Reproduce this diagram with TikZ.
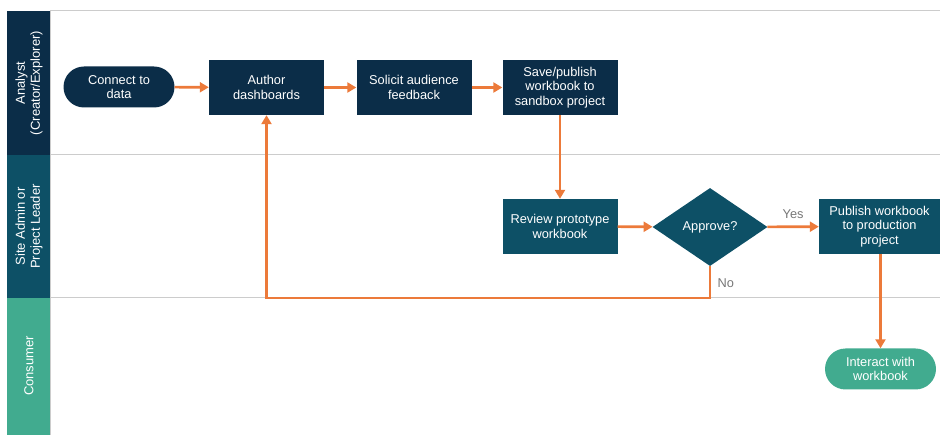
\documentclass[tikz,border=0pt]{standalone}
\usepackage{fontspec}
\setmainfont{Liberation Sans}
\usetikzlibrary{shapes.geometric,shapes.misc,arrows.meta}
\definecolor{navy}{HTML}{0B2D48}
\definecolor{teal}{HTML}{0D5066}
\definecolor{mint}{HTML}{41AB8F}
\definecolor{org}{HTML}{EC7A3A}
\definecolor{lanegray}{HTML}{CCCCCC}
\definecolor{lblgray}{HTML}{777777}
\tikzset{
  nfont/.style={font=\fontsize{12.8}{14.4}\selectfont},
  box/.style={rectangle, minimum width=115pt, minimum height=55pt, inner sep=2pt, text=white, align=center, nfont},
  pill/.style={rounded rectangle, minimum width=115pt, minimum height=41pt, inner sep=2pt, text=white, align=center, nfont},
  dec/.style={diamond, aspect=1.46, minimum width=115pt, minimum height=78pt, inner sep=0pt, fill=teal, text=white, nfont},
  flow/.style={draw=org, line width=2.6pt, -{Triangle[length=9pt,width=10pt]}},
  lanelbl/.style={rotate=90, text=white, align=center, font=\fontsize{13}{15}\selectfont},
  edgelbl/.style={text=lblgray, nfont}
}
\begin{document}
\begin{tikzpicture}[x=1pt,y=-1pt]
\useasboundingbox (0,0) rectangle (940,435);
% lane lines
\foreach \yy in {11,155,298} \draw[lanegray, line width=1pt] (50,\yy) -- (940,\yy);
% lane headers
\fill[navy] (7,11) rectangle (50,155);
\fill[teal] (7,155) rectangle (50,298);
\fill[mint] (7,298) rectangle (50,435);
\draw[lanegray, line width=0.8pt] (50,11) -- (50,435);
\node[lanelbl] (l1) at (29,83) {Analyst\\(Creator/Explorer)};
\node[lanelbl] (l2) at (29,226.5) {Site Admin or\\Project Leader};
\node[lanelbl] (l3) at (29,366) {Consumer};
% nodes
\node[pill, fill=navy] (connect) at (119,87) {Connect to\\data};
\node[box, fill=navy] (author) at (266.5,87.5) {Author\\dashboards};
\node[box, fill=navy] (solicit) at (414,87.5) {Solicit audience\\feedback};
\node[box, fill=navy] (save) at (560,87.5) {Save/publish\\workbook to\\sandbox project};
\node[box, fill=teal] (review) at (560,226.5) {Review prototype\\workbook};
\node[dec] (approve) at (710,227) {Approve?};
\node[box, fill=teal, minimum width=121pt] (publish) at (879.5,226.5) {Publish workbook\\to production\\project};
\node[pill, fill=mint] (interact) at (880.5,369) {Interact with\\workbook};
% connectors
\draw[flow] (connect) -- (author);
\draw[flow] (author) -- (solicit);
\draw[flow] (solicit) -- (save);
\draw[flow] (save) -- (review);
\draw[flow] (review) -- (approve);
\draw[flow] (approve) -- node[edgelbl, above, yshift=3pt] (yes) {Yes} (publish);
\draw[flow] (approve.south) |- (266.5,298) -- (author.south);
\node[edgelbl, anchor=west] (no) at (714,283) {No};
\draw[flow] (publish.south -| interact) -- (interact);
\end{tikzpicture}
\end{document}
